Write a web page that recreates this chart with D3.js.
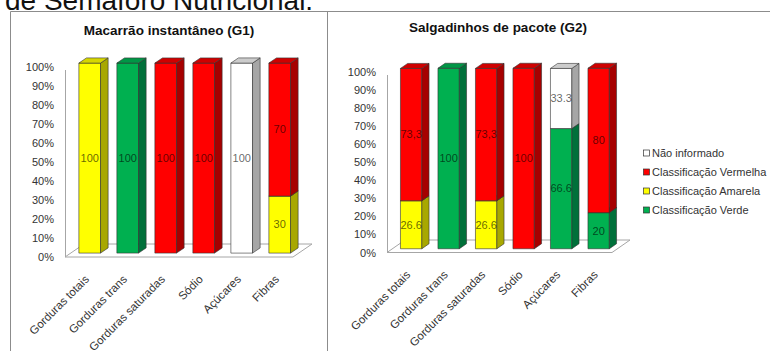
<!DOCTYPE html>
<html>
<head>
<meta charset="utf-8">
<script src="https://cdn.jsdelivr.net/npm/d3@7"></script>
<style>
  body { margin: 0; background: #fff; }
  svg { display: block; }
  text { font-family: "Liberation Sans", Arial, sans-serif; }
</style>
</head>
<body>
<script>
// Categories shown on the horizontal axis of both panels
const categories = ["Gorduras totais", "Gorduras trans", "Gorduras saturadas", "Sódio", "Açúcares", "Fibras"];
// Vertical axis ticks (percent)
const yTicks = [0, 10, 20, 30, 40, 50, 60, 70, 80, 90, 100];
// Stack order, bottom to top
const seriesNames = ["Classificação Verde", "Classificação Amarela", "Classificação Vermelha", "Não informado"];
// Legend order, top to bottom
const legendOrder = ["Não informado", "Classificação Vermelha", "Classificação Amarela", "Classificação Verde"];

// Macarrão instantâneo (G1), % of products per classification
const g1Verde        = [0, 100, 0, 0, 0, 0];
const g1Amarela      = [100, 0, 0, 0, 0, 30];
const g1Vermelha     = [0, 0, 100, 100, 0, 70];
const g1NaoInformado = [0, 0, 0, 0, 100, 0];

// Salgadinhos de pacote (G2), % of products per classification
const g2Verde        = [0, 100, 0, 0, 66.6, 20];
const g2Amarela      = [26.6, 0, 26.6, 0, 0, 0];
const g2Vermelha     = [73.3, 0, 73.3, 100, 0, 80];
const g2NaoInformado = [0, 0, 0, 0, 33.3, 0];

// Face shading for each series: front, side and top of the 3D columns
const palette = {
  "Classificação Verde":    { front: "#00B050", side: "#00703A", top: "#009646" },
  "Classificação Amarela":  { front: "#FFFF00", side: "#A8A800", top: "#D6D600" },
  "Classificação Vermelha": { front: "#FF0000", side: "#A60000", top: "#CF0000" },
  "Não informado":          { front: "#FFFFFF", side: "#A6A6A6", top: "#CCCCCC" }
};
// Decimal mark used in each series' data labels
const decimalMark = { "Classificação Vermelha": "," };

const W = 770, H = 351;
const svg = d3.select("body").append("svg").attr("width", W).attr("height", H);

// Heading line of the page above the charts (partially cut at the top)
svg.append("text")
  .attr("x", 5).attr("y", 9.5)
  .attr("font-size", 28).attr("fill", "#111")
  .text("de Semáforo Nutricional.");

// Chart frames
svg.append("path")
  .attr("d", "M10.5,352 V11.5 H771 M327.5,11.5 V352")
  .attr("fill", "none").attr("stroke", "#8c8c8c").attr("stroke-width", 1);

function drawPanel(cfg) {
  const g = svg.append("g");
  const x = d3.scaleBand().domain(categories)
    .range([cfg.left, cfg.right]).paddingInner(0.43).paddingOuter(0.215);
  const y = d3.scaleLinear().domain([0, 100]).range([cfg.bottom, cfg.top]);
  const DX = cfg.DX, DY = cfg.DY;
  const f = 0.3, depth = 0.4;          // column front position and depth within the floor
  const fx = f * DX, fy = f * DY, bx = depth * DX, by = depth * DY;

  // Title
  g.append("text")
    .attr("x", cfg.titleX).attr("y", cfg.titleY)
    .attr("text-anchor", "middle").attr("font-size", 13.5).attr("font-weight", "bold")
    .attr("fill", "#111").text(cfg.title);

  // Floor
  const y0 = y(0);
  g.append("polygon")
    .attr("points", [[cfg.left, y0], [cfg.right, y0], [cfg.right + DX, y0 - DY], [cfg.left + DX, y0 - DY]].map(p => p.join(",")).join(" "))
    .attr("fill", "#fff").attr("stroke", "#a6a6a6").attr("stroke-width", 1);

  // Vertical axis
  const axis = d3.axisLeft(y).tickValues(yTicks).tickFormat(d => d + "%").tickSize(0).tickPadding(11);
  const ag = g.append("g").attr("transform", `translate(${cfg.left},0)`).call(axis);
  ag.select(".domain").remove();
  ag.selectAll("text").attr("font-size", 11).attr("fill", "#333")
    .attr("font-family", "'Liberation Sans', Arial, sans-serif");
  g.append("line")
    .attr("x1", cfg.left + 0.5).attr("x2", cfg.left + 0.5)
    .attr("y1", y(100) + 3).attr("y2", y0)
    .attr("stroke", "#a6a6a6");

  // Stacked 3D columns
  const rows = categories.map((c, i) => {
    const r = { cat: c };
    seriesNames.forEach(s => { r[s] = cfg.data[s][i]; });
    return r;
  });
  const stacked = d3.stack().keys(seriesNames)(rows);

  categories.forEach((c, i) => {
    const xl = x(c) + fx, xr = xl + x.bandwidth();
    stacked.forEach(layer => {
      const s = layer.key;
      const [v0, v1] = layer[i];
      if (v1 - v0 <= 0) return;
      const yb = y(v0) - fy, yt = y(v1) - fy;
      const col = palette[s];
      const poly = (pts, fill) => g.append("polygon")
        .attr("points", pts.map(q => q.join(",")).join(" "))
        .attr("fill", fill).attr("stroke", "#333")
        .attr("stroke-width", 0.6).attr("stroke-linejoin", "round");
      poly([[xl, yt], [xr, yt], [xr, yb], [xl, yb]], col.front);
      poly([[xr, yt], [xr + bx, yt - by], [xr + bx, yb - by], [xr, yb]], col.side);
      poly([[xl, yt], [xl + bx, yt - by], [xr + bx, yt - by], [xr, yt]], col.top);

      const val = cfg.data[s][i];
      const txt = String(val).replace(".", decimalMark[s] || ".");
      g.append("text")
        .attr("x", (xl + xr) / 2).attr("y", (yb + yt) / 2)
        .attr("dy", "0.35em").attr("text-anchor", "middle")
        .attr("font-size", 11).attr("fill", "#000").attr("fill-opacity", 0.62)
        .text(txt);
    });
  });

  // Category labels, rotated
  categories.forEach(c => {
    const cx = x(c) + fx + x.bandwidth() / 2;
    g.append("text")
      .attr("transform", `translate(${cx},${y0 + 23}) rotate(-45)`)
      .attr("text-anchor", "end").attr("font-size", 11.5).attr("fill", "#333")
      .text(c);
  });
}

drawPanel({
  title: "Macarrão instantâneo (G1)", titleX: 169, titleY: 34.5,
  left: 65, right: 293, bottom: 257, top: 67, DX: 19, DY: 13,
  data: {
    "Classificação Verde": g1Verde,
    "Classificação Amarela": g1Amarela,
    "Classificação Vermelha": g1Vermelha,
    "Não informado": g1NaoInformado
  }
});

drawPanel({
  title: "Salgadinhos de pacote (G2)", titleX: 498, titleY: 32,
  left: 387, right: 612, bottom: 252.5, top: 72, DX: 18, DY: 12.5,
  data: {
    "Classificação Verde": g2Verde,
    "Classificação Amarela": g2Amarela,
    "Classificação Vermelha": g2Vermelha,
    "Não informado": g2NaoInformado
  }
});

// Legend
const legend = svg.append("g");
legendOrder.forEach((s, i) => {
  const cy = 153 + i * 19;
  legend.append("rect")
    .attr("x", 643.5).attr("y", cy - 3).attr("width", 6).attr("height", 6)
    .attr("fill", palette[s].front).attr("stroke", "#333").attr("stroke-width", 0.7);
  legend.append("text")
    .attr("x", 652).attr("y", cy).attr("dy", "0.35em")
    .attr("font-size", 11).attr("fill", "#333").text(s);
});
</script>
</body>
</html>
